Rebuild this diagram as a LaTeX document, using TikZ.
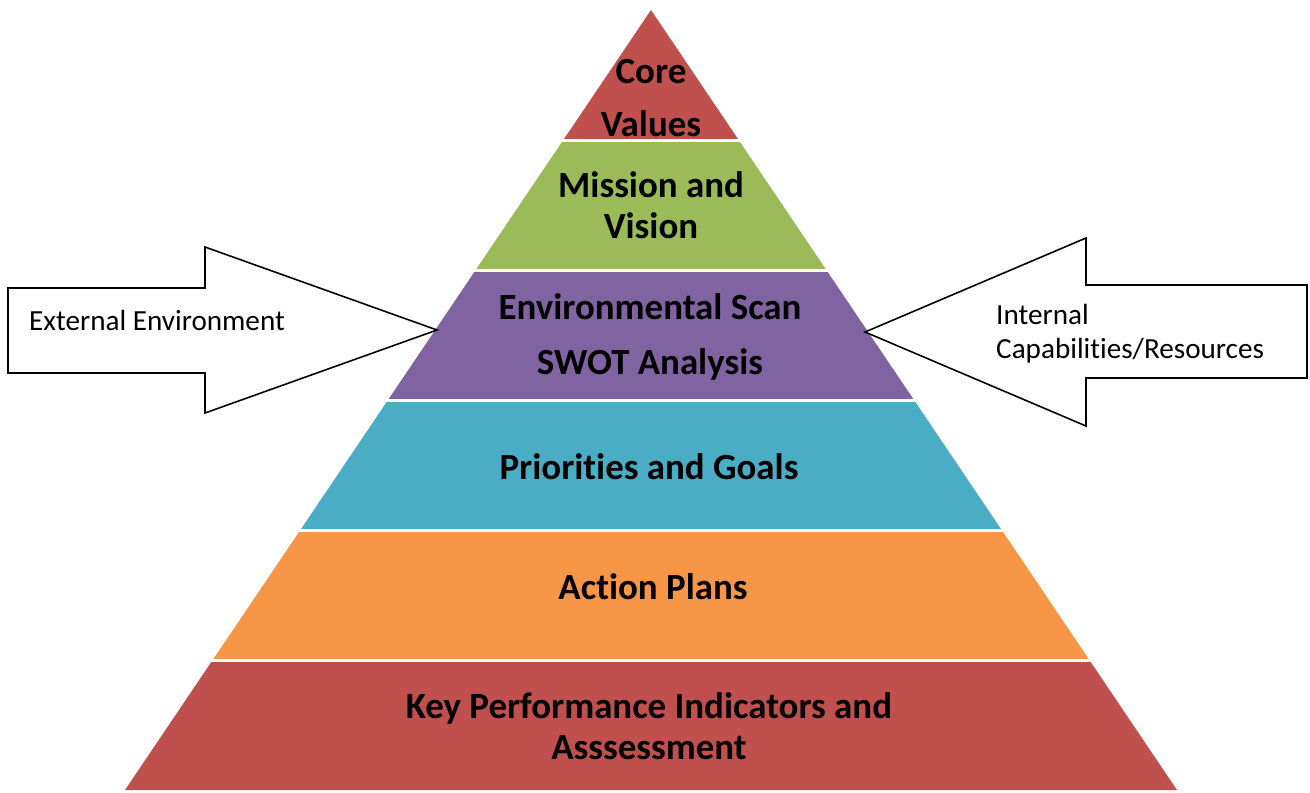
\documentclass[tikz,border=0pt]{standalone}
\usepackage{fontspec}
\setmainfont{Carlito}[Ligatures=NoCommon]
\usepackage{xcolor}
\usetikzlibrary{positioning}

\definecolor{tierred}{HTML}{C0504D}
\definecolor{tiergreen}{HTML}{9BBB59}
\definecolor{tierpurple}{HTML}{8064A2}
\definecolor{tieraqua}{HTML}{4BACC6}
\definecolor{tierorange}{HTML}{F79646}

\begin{document}
\begin{tikzpicture}[
    x=0.02cm, y=-0.02cm,
    tier/.style={font=\bfseries\fontsize{21}{23}\selectfont, align=center, text=black},
    flow/.style={draw=black, line width=0.9pt, fill=white, line join=miter},
    side/.style={font=\fontsize{16.6}{19.5}\selectfont, align=left, anchor=west}
]
\useasboundingbox (0,0) rectangle (1310,792);

% Pyramid, cut into six bands
\begin{scope}
\clip (651,10) -- (125,790) -- (1177,790) -- cycle;
\fill[tierred]    (0,0)     rectangle (1310,138.5);
\fill[tiergreen]  (0,141.5) rectangle (1310,268.5);
\fill[tierpurple] (0,271.5) rectangle (1310,398.5);
\fill[tieraqua]   (0,401.5) rectangle (1310,528.5);
\fill[tierorange] (0,531.5) rectangle (1310,658.5);
\fill[tierred]    (0,661.5) rectangle (1310,792);
\end{scope}

% Band labels
\node[tier, font=\bfseries\fontsize{21}{30}\selectfont] (values) at (651,98) {Core\\Values};
\node[tier] (mission) at (651,205) {Mission and\\Vision};
\node[tier, font=\bfseries\fontsize{21}{31}\selectfont] (scan) at (650,337) {Environmental Scan\\SWOT Analysis};
\node[tier] (goals) at (649,467) {Priorities and Goals};
\node[tier] (plans) at (653,587) {Action Plans};
\node[tier] (kpi) at (649,726) {Key Performance Indicators and\\Asssessment};

% Outside influences
\draw[flow] (8,288) -- (205,288) -- (205,247) -- (437,330) -- (205,413)
    -- (205,373) -- (8,373) -- cycle;
\node[side] (external) at (23,320) {External Environment};

\draw[flow] (865,332) -- (1086,238) -- (1086,285) -- (1307,285) -- (1307,378)
    -- (1086,378) -- (1086,426) -- cycle;
\node[side] (internal) at (990,334) {Internal\\Capabilities/Resources};

\end{tikzpicture}
\end{document}
